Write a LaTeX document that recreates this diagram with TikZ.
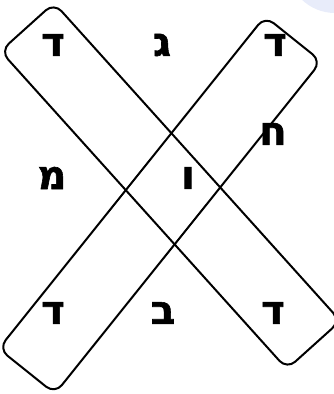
\documentclass[tikz,border=0pt]{standalone}
\usepackage{fontspec}
\newfontfamily\hebfont[Script=Hebrew, BoldFeatures={FakeBold=1.5}]{DejaVu Sans}
\usetikzlibrary{positioning}
\definecolor{blobblue}{RGB}{232,236,250}
\tikzset{
  band/.style={draw, line width=2pt, rounded corners=11pt, minimum height=72pt, inner sep=0pt},
  letter/.style={font=\hebfont\bfseries\fontsize{40}{40}\selectfont, inner sep=0pt}
}
\begin{document}
\begin{tikzpicture}[x=1pt,y=-1pt]
  \clip (0,0) rectangle (334,394);
  \fill[blobblue] (335,-35) circle (48);
  % the two crossing bands
  \node[band, minimum width=428pt, rotate=-48] (bandA) at (170.5,186) {};
  \node[band, minimum width=426pt, rotate=51.3] (bandB) at (160,205) {};
  % letters
  \node[letter] (dTL) at (53,45) {ד};
  \node[letter] (gimel) at (162,45) {ג};
  \node[letter] (dTR) at (275,45) {ד};
  \node[letter] (het) at (273,134) {ח};
  \node[letter] (mem) at (52,178) {מ};
  \node[letter] (vav) at (188,178) {ו};
  \node[letter] (dBL) at (53,313) {ד};
  \node[letter] (bet) at (163,313) {ב};
  \node[letter] (dBR) at (273,313) {ד};
\end{tikzpicture}
\end{document}
